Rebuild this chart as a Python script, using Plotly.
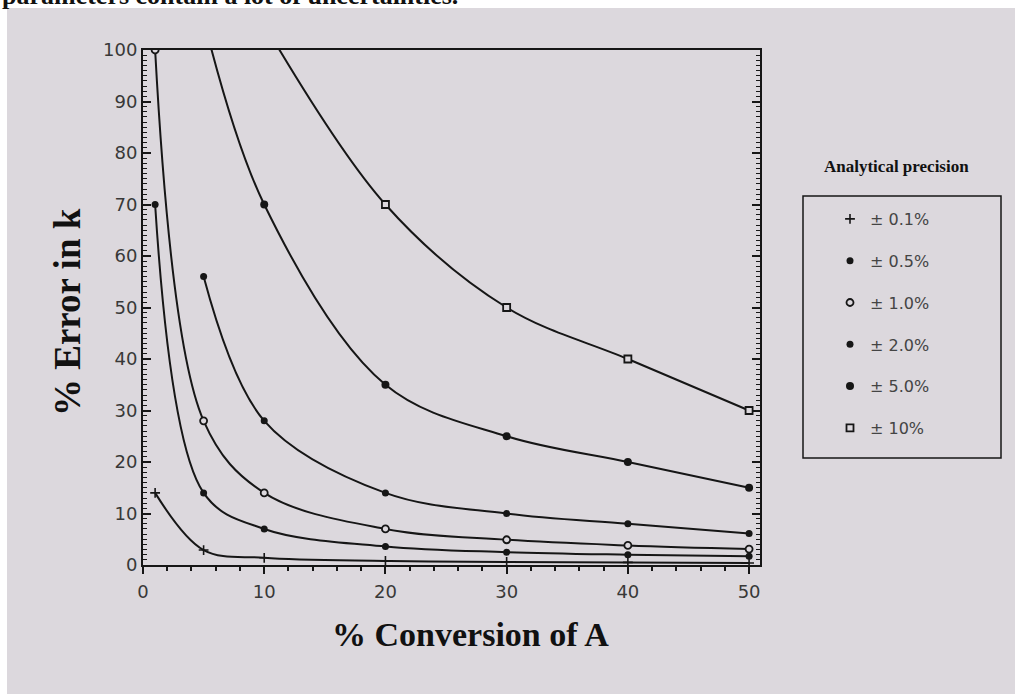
import plotly.graph_objects as go

# % conversion of A at which the error was evaluated
conv_all = [1, 5, 10, 20, 30, 40, 50]
conv_from5 = [5, 10, 20, 30, 40, 50]
conv_from10 = [10, 20, 30, 40, 50]

# % error in the rate constant k for each analytical precision
err_01 = [14, 2.9, 1.4, 0.8, 0.6, 0.5, 0.4]
err_05 = [70, 14, 7, 3.6, 2.5, 2.0, 1.7]
err_10 = [100, 28, 14, 7.0, 4.9, 3.8, 3.1]
err_20 = [56, 28, 14, 10, 8, 6.1]
err_50 = [106, 70, 35, 25, 20, 15]
err_100 = [105, 70, 50, 40, 30]

series_names = ["± 0.1%", "± 0.5%", "± 1.0%", "± 2.0%", "± 5.0%", "± 10%"]
series_x = [conv_all, conv_all, conv_all, conv_from5, conv_from5, conv_from10]
series_y = [err_01, err_05, err_10, err_20, err_50, err_100]

x_ticks = [0, 10, 20, 30, 40, 50]
y_ticks = [0, 10, 20, 30, 40, 50, 60, 70, 80, 90, 100]

PAGE = "#dcd8dd"
INK = "#161616"

marker_styles = [
    dict(symbol="cross-thin", size=7, line=dict(color=INK, width=1.6)),
    dict(symbol="circle", size=7, color=INK, line=dict(color=INK, width=0)),
    dict(symbol="circle", size=7, color=PAGE, line=dict(color=INK, width=1.8)),
    dict(symbol="circle", size=7, color=INK, line=dict(color=INK, width=0)),
    dict(symbol="circle", size=8, color=INK, line=dict(color=INK, width=0)),
    dict(symbol="square", size=7, color=PAGE, line=dict(color=INK, width=1.8)),
]

fig = go.Figure()

for name, xs, ys in zip(series_names, series_x, series_y):
    fig.add_trace(go.Scatter(
        x=xs, y=ys, mode="lines",
        line=dict(color=INK, width=2, shape="spline", smoothing=1),
        showlegend=False, hoverinfo="skip",
    ))

for i, (name, xs, ys) in enumerate(zip(series_names, series_x, series_y)):
    fig.add_trace(go.Scatter(
        x=xs, y=ys, mode="markers", name=name,
        marker=marker_styles[i], legendgroup=f"g{i}",
    ))

axis_font = dict(family="DejaVu Sans", size=18, color="#383838")

fig.update_xaxes(
    range=[0, 50.9], tickvals=x_ticks, ticks="outside", ticklen=7, tickwidth=2,
    tickcolor=INK, showline=True, linewidth=2, linecolor=INK, mirror=True,
    showgrid=False, zeroline=False, tickfont=axis_font, ticklabelstandoff=2,
    minor=dict(dtick=2, ticks="outside", ticklen=4, tickwidth=1.5, tickcolor=INK),
)
fig.update_yaxes(
    range=[0, 100], tickvals=y_ticks, ticks="inside", ticklen=8, tickwidth=1.5,
    tickcolor=INK, showline=True, linewidth=2, linecolor=INK, mirror="allticks",
    showgrid=False, zeroline=False, tickfont=axis_font,
    minor=dict(dtick=1, ticks="inside", ticklen=4, tickwidth=1.2, tickcolor=INK),
)

L, R, T, B = 143, 255, 50, 129
W, H = 1015, 694
pw, ph = W - L - R, H - T - B


def px(xp):
    return (xp - L) / pw


def py(yp):
    return (H - B - yp) / ph


shapes = [
    # white margin of the scanned page
    dict(type="rect", xref="paper", yref="paper", x0=px(-2), x1=px(W + 2),
         y0=py(8), y1=py(-2), fillcolor="white", line=dict(width=0), layer="below"),
    dict(type="rect", xref="paper", yref="paper", x0=px(-2), x1=px(7),
         y0=py(H + 2), y1=py(-2), fillcolor="white", line=dict(width=0), layer="below"),
    # legend frame
    dict(type="rect", xref="paper", yref="paper", x0=px(803), x1=px(1001),
         y0=py(458), y1=py(196), line=dict(color=INK, width=1.5)),
]

annotations = [
    dict(text="<b>Analytical precision</b>", xref="paper", yref="paper",
         x=px(896), y=py(166), showarrow=False, xanchor="center", yanchor="middle",
         font=dict(family="Liberation Serif", size=17, color="#111")),
    dict(text="<b>% Conversion of A</b>", xref="paper", yref="paper",
         x=px(470), y=py(634), showarrow=False, xanchor="center", yanchor="middle",
         font=dict(family="Liberation Serif", size=34, color="#111")),
    dict(text="<b>% Error in k</b>", xref="paper", yref="paper", textangle=-90,
         x=px(67), y=py(312), showarrow=False, xanchor="center", yanchor="middle",
         font=dict(family="Liberation Serif", size=37, color="#111")),
    dict(text="<b>parameters contain a lot of uncertainties.</b>", xref="paper", yref="paper",
         x=px(460), y=py(-5), showarrow=False, xanchor="right", yanchor="middle",
         font=dict(family="Liberation Serif", size=26, color="#111")),
]

fig.update_layout(
    width=W, height=H, margin=dict(l=L, r=R, t=T, b=B),
    paper_bgcolor=PAGE, plot_bgcolor=PAGE,
    shapes=shapes, annotations=annotations,
    legend=dict(
        x=px(830), y=py(202), xanchor="left", yanchor="top",
        bgcolor="rgba(0,0,0,0)", borderwidth=0, tracegroupgap=18,
        font=dict(family="DejaVu Sans", size=16, color="#444"),
    ),
)

fig.write_html("out.html")
